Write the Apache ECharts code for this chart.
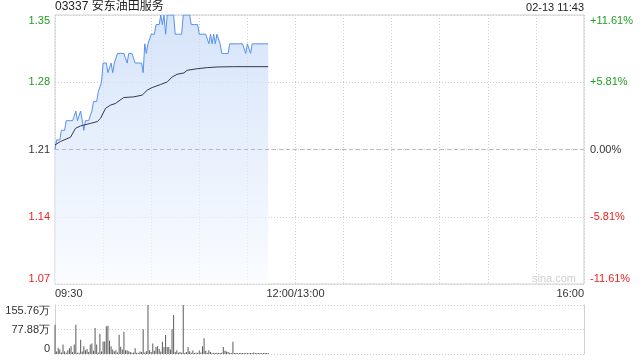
<!DOCTYPE html>
<html><head><meta charset="utf-8">
<script src="https://cdn.jsdelivr.net/npm/echarts@6/dist/echarts.min.js"></script>
<style>html,body{margin:0;padding:0;background:#fff}#c{width:640px;height:360px}</style>
</head><body><div id="c"></div>
<script>
const title = '03337 安东油田服务';
const stamp = '02-13 11:43';
const timeLabels = {0:'09:30',150:'12:00/13:00',330:'16:00'};
const priceTicks = [1.07,1.14,1.21,1.28,1.35];
const pctTicks = ['-11.61%','-5.81%','0.00%','+5.81%','+11.61%'];
const volTicks = ['0','77.88万','155.76万'];
const volMax = 155.76;
const prevClose = 1.21;
// minute-by-minute price, 09:30 .. 11:43
const prices = [
1.21,1.22,1.22,1.22,1.23,1.23,1.23,1.24,1.24,1.24,
1.24,1.24,1.24,1.25,1.24,1.24,1.25,1.25,1.23,1.24,
1.24,1.24,1.24,1.25,1.26,1.26,1.26,1.27,1.27,1.28,
1.30,1.30,1.30,1.29,1.29,1.30,1.29,1.30,1.30,1.31,
1.31,1.31,1.31,1.31,1.31,1.30,1.31,1.31,1.31,1.31,
1.30,1.30,1.30,1.30,1.30,1.29,1.32,1.31,1.32,1.32,
1.33,1.33,1.33,1.34,1.34,1.34,1.35,1.34,1.35,1.33,
1.35,1.35,1.35,1.35,1.35,1.33,1.33,1.33,1.33,1.33,
1.35,1.35,1.35,1.35,1.35,1.34,1.34,1.34,1.34,1.34,
1.33,1.33,1.33,1.33,1.33,1.33,1.32,1.33,1.32,1.33,
1.32,1.33,1.33,1.32,1.31,1.31,1.31,1.31,1.31,1.32,
1.32,1.32,1.32,1.32,1.32,1.32,1.32,1.32,1.32,1.31,
1.32,1.32,1.31,1.32,1.32,1.32,1.32,1.32,1.32,1.32,
1.32,1.32,1.32,1.32];
// average price line, read points
const avgMinutes = [0,3.4,9.7,12.8,15.9,22.1,26.3,28.4,31.5,34.6,37.7,42.9,49.2,54.4,57.5,60.6,65.8,70,73.1,76.2,80.4,82.4,88.7,94.9,101.1,111.5,133];
const avgPrices = [1.2148,1.2183,1.2228,1.2321,1.2345,1.2372,1.239,1.2424,1.2528,1.2562,1.2579,1.2641,1.2648,1.2666,1.2717,1.2745,1.2776,1.2803,1.2855,1.2883,1.2897,1.2924,1.2941,1.2952,1.2959,1.2962,1.2962];
// volume per minute (万)
const volumes = [
93,8,20,14,5,30,9,4,12,18,
25,6,30,93,4,4,45,8,25,12,
16,6,30,33,10,83,30,5,64,8,
40,40,88,90,42,25,14,9,12,5,
61,23,14,71,12,12,9,6,4,5,
18,4,3,8,6,79,5,9,155.76,12,
6,33,10,22,25,16,8,39,22,60,
22,22,14,79,124,6,12,4,6,4,
155.76,3,6,22,9,4,11,3,4,4,
11,5,25,50,10,4,12,6,3,4,
3,4,3,3,4,22,10,8,6,4,
3,39,3,3,3,3,3,3,3,3,
3,3,3,3,5,3,3,3,3,3,
3,3,3,3];

const base = priceTicks[0];
const toU = p => (p - base) * 100; // price -> cents above 1.07
const GREEN = '#1f9f1f', RED = '#f02020', DARK = '#333';
const tickColor = (v) => { const i = Math.round(v / 7); return i > 2 ? GREEN : (i < 2 ? RED : DARK); };
const grid = '#d0d0d0';
const dot = {color: '#cfcfcf', type: [1, 2], width: 1};

const chart = echarts.init(document.getElementById('c'), null, {renderer: 'canvas'});
chart.setOption({
  animation: false,
  textStyle: {fontFamily: 'Liberation Sans, Arial, sans-serif'},
  graphic: [
    {type: 'text', left: 55, top: 1, style: {text: title, fontSize: 12, fill: '#222', fontFamily: 'Liberation Sans, Noto Sans CJK SC, sans-serif'}},
    {type: 'text', right: 56, top: 2, style: {text: stamp, fontSize: 11, fill: '#222', fontFamily: 'Liberation Sans, sans-serif'}},
    {type: 'text', left: 532, top: 273, style: {text: 'sina.com', fontSize: 11, fill: '#cfcfcf', fontFamily: 'Liberation Sans, sans-serif'}}
  ],
  grid: [
    {left: 55, top: 15, width: 529, height: 269, show: true, borderColor: grid, borderWidth: 1},
    {left: 55, top: 305, width: 529, height: 49, show: false}
  ],
  xAxis: [
    {gridIndex: 0, type: 'value', min: 0, max: 330, interval: 30,
     axisLine: {show: false}, axisTick: {show: false}, splitLine: {show: true, lineStyle: dot},
     axisLabel: {margin: 4, fontSize: 11, color: DARK, alignMinLabel: 'left', alignMaxLabel: 'right',
       formatter: v => timeLabels[v] || ''}},
    {gridIndex: 1, type: 'value', min: 0, max: 330, interval: 30,
     axisLine: {show: false}, axisTick: {show: false}, splitLine: {show: false}, axisLabel: {show: false}}
  ],
  yAxis: [
    {gridIndex: 0, type: 'value', min: 0, max: 28, interval: 7,
     axisLine: {show: false}, axisTick: {show: false}, splitLine: {show: true, lineStyle: dot},
     axisLabel: {margin: 5, fontSize: 11, color: tickColor, verticalAlignMinLabel: 'bottom', verticalAlignMaxLabel: 'top',
       formatter: v => priceTicks[Math.round(v / 7)].toFixed(2)}},
    {gridIndex: 0, type: 'value', position: 'right', min: 0, max: 28, interval: 7,
     axisLine: {show: false}, axisTick: {show: false}, splitLine: {show: false},
     axisLabel: {margin: 6, fontSize: 11, color: tickColor, verticalAlignMinLabel: 'bottom', verticalAlignMaxLabel: 'top',
       formatter: v => pctTicks[Math.round(v / 7)]}},
    {gridIndex: 1, type: 'value', min: 0, max: volMax, interval: volMax / 2,
     axisLine: {show: true, lineStyle: {color: grid}}, axisTick: {show: false}, splitLine: {show: true, lineStyle: dot},
     axisLabel: {margin: 5, fontSize: 11, color: DARK, verticalAlignMinLabel: 'bottom', verticalAlignMaxLabel: 'top',
       formatter: (v, i) => volTicks[Math.round(v / (volMax / 2))]}},
    {gridIndex: 1, type: 'value', position: 'right', min: 0, max: volMax, interval: volMax / 2,
     axisLine: {show: true, lineStyle: {color: grid}}, axisTick: {show: false}, splitLine: {show: false}, axisLabel: {show: false}}
  ],
  series: [
    {type: 'line', xAxisIndex: 0, yAxisIndex: 0, showSymbol: false, silent: true,
     data: prices.map((p, i) => [i, toU(p)]),
     lineStyle: {color: '#5790f0', width: 1},
     areaStyle: {origin: 'start', color: new echarts.graphic.LinearGradient(0, 0, 0, 1, [
       {offset: 0, color: 'rgba(196,216,247,1)'}, {offset: 1, color: 'rgba(247,250,255,1)'}])},
     markLine: {silent: true, symbol: 'none', label: {show: false},
       lineStyle: {color: '#b8b8b8', type: [4, 3], width: 1},
       data: [{yAxis: toU(prevClose)}]}},
    {type: 'line', xAxisIndex: 0, yAxisIndex: 0, showSymbol: false, silent: true,
     data: avgMinutes.map((m, i) => [m, toU(avgPrices[i])]),
     lineStyle: {color: '#2e3850', width: 1}},
    {type: 'bar', xAxisIndex: 1, yAxisIndex: 2, silent: true, barWidth: 1,
     data: volumes.map((v, i) => [i, v]),
     itemStyle: {color: '#5a5a5a'}}
  ]
});
</script></body></html>
